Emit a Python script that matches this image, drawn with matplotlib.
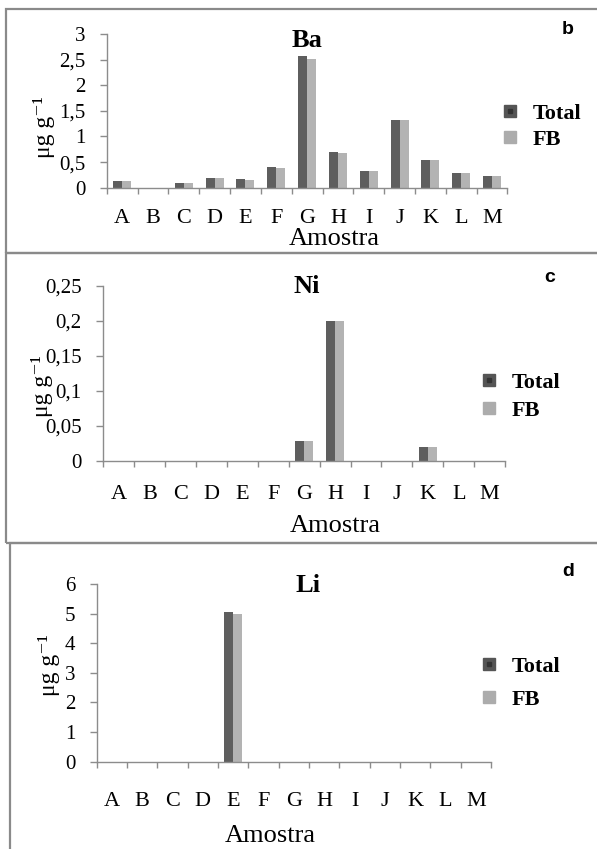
import numpy as np
import matplotlib.pyplot as plt
from matplotlib.lines import Line2D
from matplotlib.patches import Rectangle
from matplotlib.ticker import FuncFormatter

#%% data
amostras = ['A', 'B', 'C', 'D', 'E', 'F', 'G', 'H', 'I', 'J', 'K', 'L', 'M']

ba_total = [0.13, 0, 0.09, 0.19, 0.17, 0.40, 2.57, 0.70, 0.33, 1.33, 0.55, 0.28, 0.22]
ba_fb = [0.13, 0, 0.09, 0.19, 0.16, 0.385, 2.51, 0.68, 0.33, 1.33, 0.55, 0.28, 0.22]

ni_total = [0, 0, 0, 0, 0, 0, 0.028, 0.20, 0, 0, 0.02, 0, 0]
ni_fb = [0, 0, 0, 0, 0, 0, 0.028, 0.20, 0, 0, 0.02, 0, 0]

li_total = [0, 0, 0, 0, 5.04, 0, 0, 0, 0, 0, 0, 0, 0]
li_fb = [0, 0, 0, 0, 5.0, 0, 0, 0, 0, 0, 0, 0, 0]

series_names = ['Total', 'FB']

#%% plot features
plt.rcParams['font.family'] = ['Liberation Serif', 'DejaVu Serif']

W, H = 597, 849
fig = plt.figure(figsize=(W / 100, H / 100), dpi=100)

col_total = '#5e5e5e'
col_fb = '#b3b3b3'
axis_col = '#8c8c8c'
border_col = '#8a8a8a'


def fx(x):
    return x / W


def fy(y):
    return 1 - y / H


def comma_fmt(v, pos):
    return ('%g' % v).replace('.', ',')


# panel frames (pixel coords of the reference)
for x0, y0, y1 in [(6, 9.5, 253), (6, 253, 543.3), (10, 543.3, 860)]:
    fig.add_artist(Rectangle((fx(x0), fy(y1)), fx(620) - fx(x0), fy(y0) - fy(y1),
                             transform=fig.transFigure, fill=False,
                             edgecolor=border_col, linewidth=1.6))

panels = [
    # values, box (left, right, top, bottom), ymax, step, title, letter, ...
    dict(total=ba_total, fb=ba_fb, box=(106.7, 507.5, 34, 187.7), ymax=3, step=0.5,
         title='Ba', title_xy=(307, 47), letter='b', letter_xy=(568, 29),
         ylab_xy=(44, 127), xlab_xy=(334, 245), xpad=15.5, leg_xy=(501, 126.7), leg_sp=0.27),
    dict(total=ni_total, fb=ni_fb, box=(103.3, 505, 286, 461), ymax=0.25, step=0.05,
         title='Ni', title_xy=(307, 293), letter='c', letter_xy=(550, 278),
         ylab_xy=(42, 386), xlab_xy=(335, 532), xpad=17.5, leg_xy=(480.4, 396.7), leg_sp=0.33),
    dict(total=li_total, fb=li_fb, box=(96.7, 491, 584, 761.7), ymax=6, step=1,
         title='Li', title_xy=(308, 592), letter='d', letter_xy=(568, 571),
         ylab_xy=(49, 665), xlab_xy=(270, 842), xpad=22, leg_xy=(480.4, 683.3), leg_sp=0.57),
]

bar_w = 0.29
x = np.arange(len(amostras)) + 0.5

for p in panels:
    left, right, top, bottom = p['box']
    ax = fig.add_axes([fx(left), fy(bottom), fx(right) - fx(left), fy(top) - fy(bottom)])
    ax.bar(x - bar_w / 2, p['total'], bar_w, color=col_total, label='Total')
    ax.bar(x + bar_w / 2, p['fb'], bar_w, color=col_fb, label='FB')

    ax.set_xlim(0, len(amostras))
    ax.set_ylim(0, p['ymax'])
    ax.set_yticks(np.arange(0, p['ymax'] + p['step'] / 2, p['step']))
    ax.yaxis.set_major_formatter(FuncFormatter(comma_fmt))

    ax.set_xticks(np.arange(len(amostras) + 1))
    ax.set_xticklabels([])
    ax.set_xticks(x, minor=True)
    ax.set_xticklabels(amostras, minor=True, fontsize=16)
    ax.tick_params(axis='x', which='major', length=4.5, width=1, color=axis_col, direction='out')
    ax.tick_params(axis='x', which='minor', length=0, pad=p['xpad'])
    ax.tick_params(axis='y', length=5, width=1, color=axis_col, pad=10.5, labelsize=15)

    for s in ['top', 'right']:
        ax.spines[s].set_visible(False)
    for s in ['left', 'bottom']:
        ax.spines[s].set_color(axis_col)
        ax.spines[s].set_linewidth(1)

    fig.text(fx(p['title_xy'][0]), fy(p['title_xy'][1]), p['title'], fontsize=19,
             fontweight='bold', ha='center', va='baseline')
    fig.text(fx(p['letter_xy'][0]), fy(p['letter_xy'][1]), p['letter'], fontsize=14,
             fontweight='bold', family='Liberation Sans', ha='center', va='center')
    fig.text(fx(p['ylab_xy'][0]), fy(p['ylab_xy'][1]), 'μg g\u207b\u00b9', fontsize=17,
             rotation=90, ha='center', va='center')
    fig.text(fx(p['xlab_xy'][0]), fy(p['xlab_xy'][1]), 'Amostra', fontsize=19,
             ha='center', va='baseline')

    h_total = (Line2D([], [], ls='', marker='s', markersize=9, color='#555555'),
               Line2D([], [], ls='', marker='s', markersize=3.5, color='#333333'))
    h_fb = Line2D([], [], ls='', marker='s', markersize=9, color='#acacac')
    ax.legend([h_total, h_fb], series_names, loc='center left',
              bbox_to_anchor=(fx(p['leg_xy'][0]), fy(p['leg_xy'][1])),
              bbox_transform=fig.transFigure, frameon=False, borderpad=0,
              borderaxespad=0, handlelength=0.8, handletextpad=0.62,
              labelspacing=p['leg_sp'], prop={'weight': 'bold', 'size': 16})

plt.savefig('out.png', dpi=100)
